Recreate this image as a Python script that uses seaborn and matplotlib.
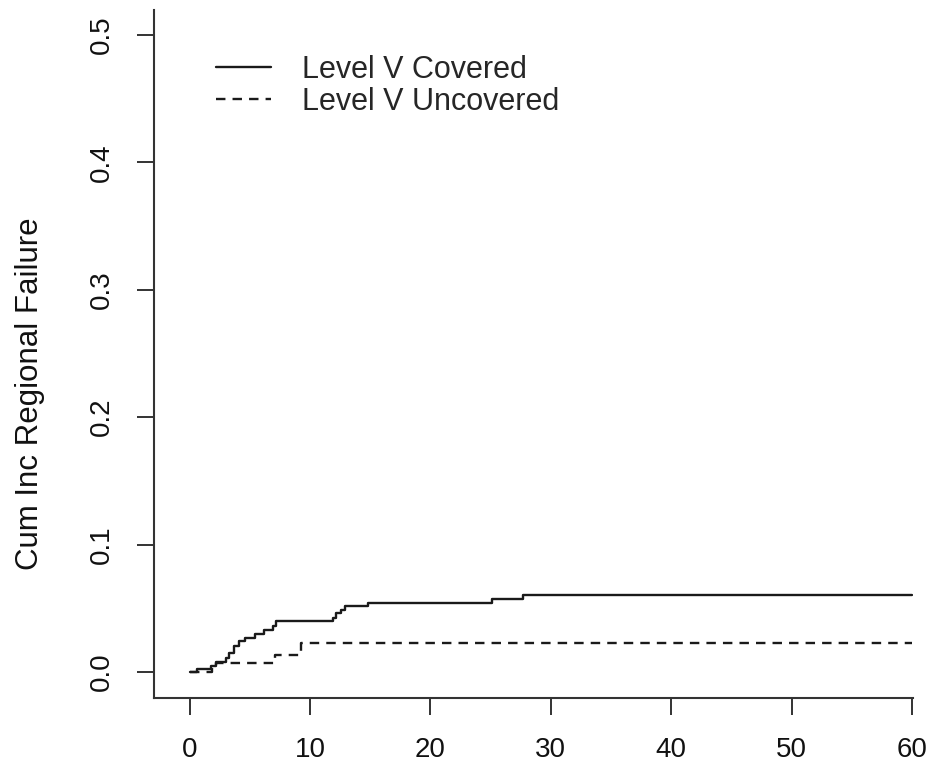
import matplotlib
matplotlib.use("Agg")
import matplotlib.pyplot as plt
import seaborn as sns
import pandas as pd

# Data (step functions, post-step)
covered_t = [0, 0.6, 1.8, 2.2, 3.0, 3.3, 3.7, 4.1, 4.6, 5.4, 6.2, 6.9, 7.2,
             11.9, 12.2, 12.6, 12.9, 14.8, 25.1, 27.7, 60]
covered_v = [0, 0.002, 0.005, 0.008, 0.011, 0.015, 0.020, 0.024, 0.027, 0.030,
             0.033, 0.036, 0.040, 0.042, 0.046, 0.049, 0.052, 0.054, 0.057,
             0.0605, 0.0605]
uncovered_t = [0, 1.9, 2.2, 7.1, 9.3, 60]
uncovered_v = [0, 0.004, 0.007, 0.0135, 0.0225, 0.0225]

series_names = ["Level V Covered", "Level V Uncovered"]
x_ticks = [0, 10, 20, 30, 40, 50, 60]
y_ticks = [0.0, 0.1, 0.2, 0.3, 0.4, 0.5]
y_label = "Cum Inc Regional Failure"

df = pd.concat([
    pd.DataFrame({"t": covered_t, "v": covered_v, "group": series_names[0]}),
    pd.DataFrame({"t": uncovered_t, "v": uncovered_v, "group": series_names[1]}),
], ignore_index=True)

sns.set_style("white")
plt.rcParams["font.family"] = ["Liberation Sans", "DejaVu Sans"]

W, H = 940, 767
fig = plt.figure(figsize=(W / 100, H / 100), dpi=100)
ax = fig.add_axes([154 / W, (H - 697.7) / H, (913 - 154) / W, (697.7 - 10) / H])

line_color = "#1a1a1a"
sns.lineplot(data=df, x="t", y="v", hue="group", style="group",
             palette=[line_color, line_color],
             dashes={series_names[0]: "", series_names[1]: (4, 3)},
             drawstyle="steps-post", estimator=None, sort=False,
             linewidth=1.7, ax=ax, legend=True)

ax.set_xlim(-2.95, 60.09)
ax.set_ylim(-0.0202, 0.5196)
ax.set_xticks(x_ticks)
ax.set_yticks(y_ticks)
ax.set_xticklabels([str(t) for t in x_ticks])
ax.set_yticklabels([f"{v:.1f}" for v in y_ticks])

for s in ["top", "right"]:
    ax.spines[s].set_visible(False)
for s in ["left", "bottom"]:
    ax.spines[s].set_color("#333333")
    ax.spines[s].set_linewidth(1.5)

ax.tick_params(axis="both", direction="out", length=12, width=1.4,
               color="#333333", labelsize=20, pad=16, labelcolor="#111111",
               bottom=True, left=True)
ax.tick_params(axis="y", labelrotation=90)
for lab in ax.get_yticklabels():
    lab.set_va("center")

ax.set_xlabel("")
ax.set_ylabel(y_label, fontsize=22.5, color="#111111")
ax.yaxis.set_label_coords((30 - 154) / 759, (697.7 - 394) / 687.7)
ax.yaxis.label.set_va("center")

ax.legend(loc="upper left", bbox_to_anchor=((210 - 154) / 759, (697.7 - 49) / 687.7),
          frameon=False, fontsize=22, handlelength=1.8, handletextpad=1.0,
          labelspacing=0.05, borderaxespad=0, borderpad=0.2)

fig.savefig("out.png", dpi=100, facecolor="white")
